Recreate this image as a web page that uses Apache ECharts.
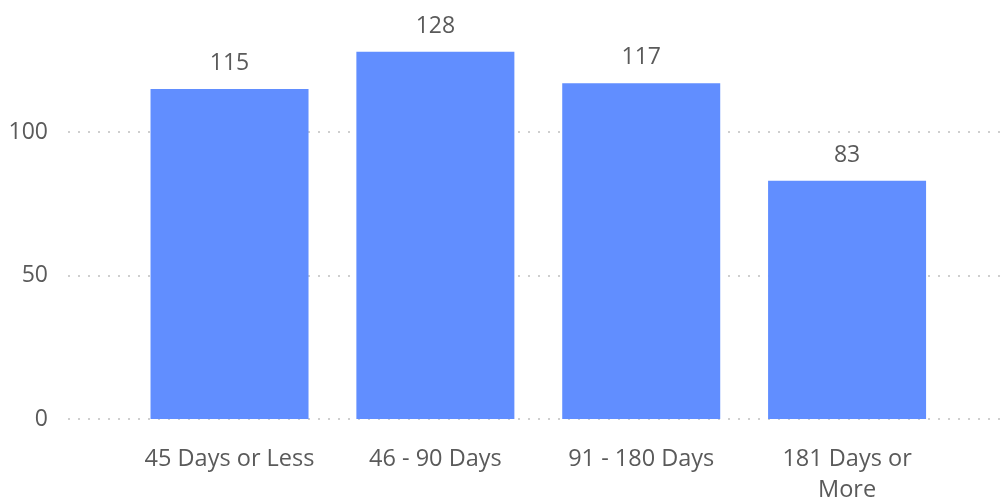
<!DOCTYPE html>
<html><head><meta charset="utf-8">
<script src="https://cdn.jsdelivr.net/npm/echarts@6/dist/echarts.min.js"></script>
<style>html,body{margin:0;padding:0;background:#fff}#c{width:1003px;height:503px}</style>
</head><body><div id="c"></div>
<script>
const categories = ['45 Days or Less', '46 - 90 Days', '91 - 180 Days', '181 Days or\nMore'];
const values = [115, 128, 117, 83];
const yMin = 0, yMax = 146, yInterval = 50;

const chart = echarts.init(document.getElementById('c'));
const font = '"Open Sans", sans-serif';
const txt = '#5a5a5a';
chart.setOption({
  animation: false,
  grid: [
    {left: 68, right: 3, top: 0, bottom: 84, outerBoundsMode: 'none', containLabel: false},
    {left: 126.6, right: 53, top: 0, bottom: 84, outerBoundsMode: 'none', containLabel: false}
  ],
  xAxis: [
    {gridIndex: 0, type: 'category', data: categories, show: false},
    {gridIndex: 1, type: 'category', data: categories,
     axisLine: {show: false}, axisTick: {show: false},
     axisLabel: {color: txt, fontFamily: font, fontSize: 23.5, lineHeight: 31, margin: 25, interval: 0}}
  ],
  yAxis: [
    {gridIndex: 0, type: 'value', min: yMin, max: yMax, interval: yInterval,
     axisLine: {show: false}, axisTick: {show: false},
     axisLabel: {color: txt, fontFamily: font, fontSize: 23, margin: 20, showMaxLabel: false},
     splitLine: {showMaxLine: false, lineStyle: {color: '#cfcfcf', width: 2, type: [2, 8]}}},
    {gridIndex: 1, type: 'value', min: yMin, max: yMax, interval: yInterval, show: false,
     splitLine: {show: false}}
  ],
  series: [{
    type: 'bar', xAxisIndex: 1, yAxisIndex: 1, data: values, barWidth: 158,
    itemStyle: {color: '#618eff'},
    label: {show: true, position: 'top', distance: 14, color: txt, fontFamily: font, fontSize: 23}
  }]
});
</script></body></html>
